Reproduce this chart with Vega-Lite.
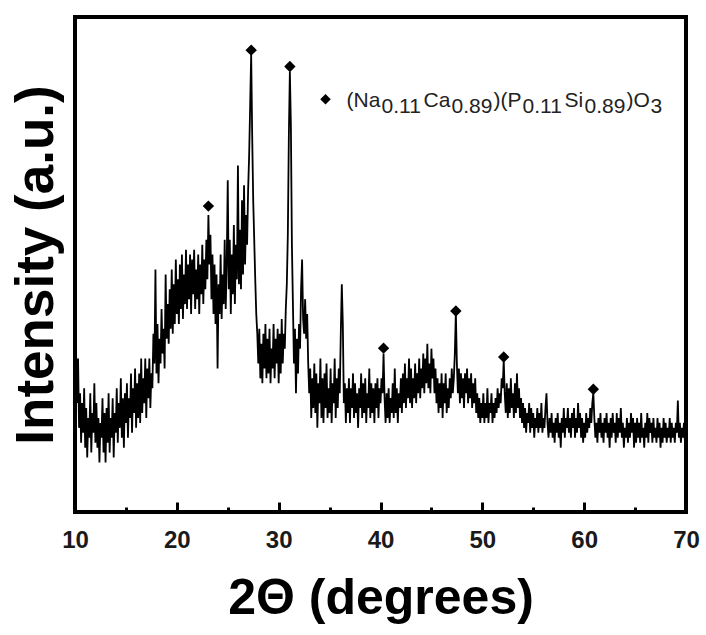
{
  "$schema": "https://vega.github.io/schema/vega-lite/v6.json",
  "width": 611,
  "height": 495,
  "autosize": {"type": "none"},
  "padding": {"left": 75, "top": 17, "right": 20, "bottom": 123},
  "background": "white",
  "config": {
    "view": {"stroke": "black", "strokeWidth": 4},
    "axis": {"grid": false},
    "font": "Liberation Sans"
  },
  "datasets": {
    "xrd": [
      {"t":10.0,"i":27},{"t":10.1,"i":33},{"t":10.2,"i":22},{"t":10.3,"i":31},{"t":10.4,"i":17},{"t":10.5,"i":24},{"t":10.6,"i":14},{"t":10.7,"i":22},{"t":10.8,"i":16},{"t":10.9,"i":25},
      {"t":11.0,"i":13},{"t":11.1,"i":21},{"t":11.2,"i":11},{"t":11.3,"i":19},{"t":11.4,"i":15},{"t":11.5,"i":24},{"t":11.6,"i":12},{"t":11.7,"i":20},{"t":11.8,"i":16},{"t":11.9,"i":26},
      {"t":12.0,"i":14},{"t":12.1,"i":22},{"t":12.2,"i":13},{"t":12.3,"i":19},{"t":12.4,"i":10},{"t":12.5,"i":18},{"t":12.6,"i":15},{"t":12.7,"i":23},{"t":12.8,"i":12},{"t":12.9,"i":20},
      {"t":13.0,"i":10},{"t":13.1,"i":21},{"t":13.2,"i":14},{"t":13.3,"i":24},{"t":13.4,"i":12},{"t":13.5,"i":19},{"t":13.6,"i":15},{"t":13.7,"i":23},{"t":13.8,"i":11},{"t":13.9,"i":20},
      {"t":14.0,"i":16},{"t":14.1,"i":25},{"t":14.2,"i":14},{"t":14.3,"i":22},{"t":14.4,"i":17},{"t":14.5,"i":27},{"t":14.6,"i":15},{"t":14.7,"i":23},{"t":14.8,"i":13},{"t":14.9,"i":24},
      {"t":15.0,"i":18},{"t":15.1,"i":26},{"t":15.2,"i":15},{"t":15.3,"i":23},{"t":15.4,"i":19},{"t":15.5,"i":28},{"t":15.6,"i":16},{"t":15.7,"i":25},{"t":15.8,"i":20},{"t":15.9,"i":29},
      {"t":16.0,"i":17},{"t":16.1,"i":26},{"t":16.2,"i":19},{"t":16.3,"i":28},{"t":16.4,"i":18},{"t":16.5,"i":31},{"t":16.6,"i":20},{"t":16.7,"i":27},{"t":16.8,"i":22},{"t":16.9,"i":31},
      {"t":17.0,"i":19},{"t":17.1,"i":29},{"t":17.2,"i":23},{"t":17.3,"i":31},{"t":17.4,"i":21},{"t":17.5,"i":28},{"t":17.6,"i":25},{"t":17.7,"i":36},{"t":17.8,"i":30},{"t":17.9,"i":49},
      {"t":18.0,"i":28},{"t":18.1,"i":38},{"t":18.2,"i":26},{"t":18.3,"i":35},{"t":18.4,"i":30},{"t":18.5,"i":41},{"t":18.6,"i":32},{"t":18.7,"i":37},{"t":18.8,"i":29},{"t":18.9,"i":48},
      {"t":19.0,"i":35},{"t":19.1,"i":42},{"t":19.2,"i":34},{"t":19.3,"i":45},{"t":19.4,"i":37},{"t":19.5,"i":49},{"t":19.6,"i":36},{"t":19.7,"i":46},{"t":19.8,"i":38},{"t":19.9,"i":51},
      {"t":20.0,"i":40},{"t":20.1,"i":47},{"t":20.2,"i":38},{"t":20.3,"i":50},{"t":20.4,"i":41},{"t":20.5,"i":52},{"t":20.6,"i":39},{"t":20.7,"i":48},{"t":20.8,"i":42},{"t":20.9,"i":53},
      {"t":21.0,"i":41},{"t":21.1,"i":50},{"t":21.2,"i":43},{"t":21.3,"i":52},{"t":21.4,"i":40},{"t":21.5,"i":51},{"t":21.6,"i":44},{"t":21.7,"i":53},{"t":21.8,"i":41},{"t":21.9,"i":49},
      {"t":22.0,"i":43},{"t":22.1,"i":52},{"t":22.2,"i":40},{"t":22.3,"i":50},{"t":22.4,"i":44},{"t":22.5,"i":54},{"t":22.6,"i":42},{"t":22.7,"i":51},{"t":22.8,"i":45},{"t":22.9,"i":55},
      {"t":23.0,"i":47},{"t":23.1,"i":60},{"t":23.2,"i":50},{"t":23.3,"i":56},{"t":23.4,"i":43},{"t":23.5,"i":52},{"t":23.6,"i":40},{"t":23.7,"i":50},{"t":23.8,"i":38},{"t":23.9,"i":48},
      {"t":24.0,"i":29},{"t":24.1,"i":46},{"t":24.2,"i":40},{"t":24.3,"i":52},{"t":24.4,"i":39},{"t":24.5,"i":48},{"t":24.6,"i":42},{"t":24.7,"i":55},{"t":24.8,"i":41},{"t":24.9,"i":50},
      {"t":25.0,"i":67},{"t":25.1,"i":45},{"t":25.2,"i":55},{"t":25.3,"i":40},{"t":25.4,"i":52},{"t":25.5,"i":44},{"t":25.6,"i":58},{"t":25.7,"i":42},{"t":25.8,"i":54},{"t":25.9,"i":47},
      {"t":26.0,"i":70},{"t":26.1,"i":46},{"t":26.2,"i":57},{"t":26.3,"i":45},{"t":26.4,"i":63},{"t":26.5,"i":48},{"t":26.6,"i":66},{"t":26.7,"i":50},{"t":26.8,"i":60},{"t":26.9,"i":54},
      {"t":27.0,"i":65},{"t":27.1,"i":72},{"t":27.2,"i":82},{"t":27.3,"i":92.5},{"t":27.4,"i":76},{"t":27.5,"i":63},{"t":27.6,"i":55},{"t":27.7,"i":47},{"t":27.8,"i":40},{"t":27.9,"i":36},
      {"t":28.0,"i":30},{"t":28.1,"i":37},{"t":28.2,"i":27},{"t":28.3,"i":34},{"t":28.4,"i":26},{"t":28.5,"i":36},{"t":28.6,"i":29},{"t":28.7,"i":38},{"t":28.8,"i":27},{"t":28.9,"i":35},
      {"t":29.0,"i":28},{"t":29.1,"i":37},{"t":29.2,"i":26},{"t":29.3,"i":33},{"t":29.4,"i":29},{"t":29.5,"i":38},{"t":29.6,"i":27},{"t":29.7,"i":35},{"t":29.8,"i":30},{"t":29.9,"i":37},
      {"t":30.0,"i":26},{"t":30.1,"i":36},{"t":30.2,"i":28},{"t":30.3,"i":39},{"t":30.4,"i":30},{"t":30.5,"i":36},{"t":30.6,"i":33},{"t":30.7,"i":41},{"t":30.8,"i":46},{"t":30.9,"i":56},
      {"t":31.0,"i":76},{"t":31.1,"i":89},{"t":31.2,"i":78},{"t":31.3,"i":54},{"t":31.4,"i":42},{"t":31.5,"i":30},{"t":31.6,"i":37},{"t":31.7,"i":24},{"t":31.8,"i":35},{"t":31.9,"i":28},
      {"t":32.0,"i":38},{"t":32.1,"i":33},{"t":32.2,"i":45},{"t":32.3,"i":51},{"t":32.4,"i":39},{"t":32.5,"i":36},{"t":32.6,"i":43},{"t":32.7,"i":35},{"t":32.8,"i":40},{"t":32.9,"i":30},
      {"t":33.0,"i":24},{"t":33.1,"i":29},{"t":33.2,"i":19},{"t":33.3,"i":27},{"t":33.4,"i":21},{"t":33.5,"i":30},{"t":33.6,"i":20},{"t":33.7,"i":28},{"t":33.8,"i":17},{"t":33.9,"i":26},
      {"t":34.0,"i":22},{"t":34.1,"i":31},{"t":34.2,"i":19},{"t":34.3,"i":27},{"t":34.4,"i":18},{"t":34.5,"i":28},{"t":34.6,"i":21},{"t":34.7,"i":30},{"t":34.8,"i":19},{"t":34.9,"i":25},
      {"t":35.0,"i":20},{"t":35.1,"i":29},{"t":35.2,"i":18},{"t":35.3,"i":26},{"t":35.4,"i":22},{"t":35.5,"i":31},{"t":35.6,"i":19},{"t":35.7,"i":27},{"t":35.8,"i":21},{"t":35.9,"i":29},
      {"t":36.0,"i":24},{"t":36.1,"i":36},{"t":36.2,"i":46},{"t":36.3,"i":38},{"t":36.4,"i":22},{"t":36.5,"i":26},{"t":36.6,"i":18},{"t":36.7,"i":25},{"t":36.8,"i":20},{"t":36.9,"i":27},
      {"t":37.0,"i":18},{"t":37.1,"i":25},{"t":37.2,"i":21},{"t":37.3,"i":28},{"t":37.4,"i":19},{"t":37.5,"i":26},{"t":37.6,"i":20},{"t":37.7,"i":24},{"t":37.8,"i":17},{"t":37.9,"i":25},
      {"t":38.0,"i":21},{"t":38.1,"i":28},{"t":38.2,"i":19},{"t":38.3,"i":26},{"t":38.4,"i":20},{"t":38.5,"i":27},{"t":38.6,"i":18},{"t":38.7,"i":24},{"t":38.8,"i":21},{"t":38.9,"i":29},
      {"t":39.0,"i":19},{"t":39.1,"i":26},{"t":39.2,"i":20},{"t":39.3,"i":25},{"t":39.4,"i":18},{"t":39.5,"i":26},{"t":39.6,"i":21},{"t":39.7,"i":27},{"t":39.8,"i":19},{"t":39.9,"i":25},
      {"t":40.0,"i":22},{"t":40.1,"i":27},{"t":40.2,"i":24},{"t":40.3,"i":32},{"t":40.4,"i":23},{"t":40.5,"i":18},{"t":40.6,"i":24},{"t":40.7,"i":19},{"t":40.8,"i":25},{"t":40.9,"i":18},
      {"t":41.0,"i":23},{"t":41.1,"i":20},{"t":41.2,"i":26},{"t":41.3,"i":19},{"t":41.4,"i":29},{"t":41.5,"i":20},{"t":41.6,"i":25},{"t":41.7,"i":18},{"t":41.8,"i":24},{"t":41.9,"i":21},
      {"t":42.0,"i":27},{"t":42.1,"i":20},{"t":42.2,"i":28},{"t":42.3,"i":22},{"t":42.4,"i":30},{"t":42.5,"i":21},{"t":42.6,"i":27},{"t":42.7,"i":23},{"t":42.8,"i":31},{"t":42.9,"i":22},
      {"t":43.0,"i":29},{"t":43.1,"i":21},{"t":43.2,"i":27},{"t":43.3,"i":23},{"t":43.4,"i":30},{"t":43.5,"i":22},{"t":43.6,"i":28},{"t":43.7,"i":24},{"t":43.8,"i":31},{"t":43.9,"i":23},
      {"t":44.0,"i":29},{"t":44.1,"i":25},{"t":44.2,"i":32},{"t":44.3,"i":24},{"t":44.4,"i":31},{"t":44.5,"i":26},{"t":44.6,"i":34},{"t":44.7,"i":25},{"t":44.8,"i":30},{"t":44.9,"i":24},
      {"t":45.0,"i":33},{"t":45.1,"i":27},{"t":45.2,"i":31},{"t":45.3,"i":24},{"t":45.4,"i":29},{"t":45.5,"i":22},{"t":45.6,"i":27},{"t":45.7,"i":20},{"t":45.8,"i":26},{"t":45.9,"i":21},
      {"t":46.0,"i":28},{"t":46.1,"i":19},{"t":46.2,"i":26},{"t":46.3,"i":22},{"t":46.4,"i":28},{"t":46.5,"i":20},{"t":46.6,"i":25},{"t":46.7,"i":21},{"t":46.8,"i":27},{"t":46.9,"i":23},
      {"t":47.0,"i":29},{"t":47.1,"i":24},{"t":47.2,"i":27},{"t":47.3,"i":32},{"t":47.4,"i":40.4},{"t":47.5,"i":30},{"t":47.6,"i":24},{"t":47.7,"i":29},{"t":47.8,"i":22},{"t":47.9,"i":28},
      {"t":48.0,"i":23},{"t":48.1,"i":27},{"t":48.2,"i":21},{"t":48.3,"i":28},{"t":48.4,"i":24},{"t":48.5,"i":29},{"t":48.6,"i":22},{"t":48.7,"i":27},{"t":48.8,"i":23},{"t":48.9,"i":28},
      {"t":49.0,"i":21},{"t":49.1,"i":26},{"t":49.2,"i":22},{"t":49.3,"i":27},{"t":49.4,"i":20},{"t":49.5,"i":24},{"t":49.6,"i":19},{"t":49.7,"i":23},{"t":49.8,"i":18},{"t":49.9,"i":22},
      {"t":50.0,"i":19},{"t":50.1,"i":24},{"t":50.2,"i":18},{"t":50.3,"i":22},{"t":50.4,"i":19},{"t":50.5,"i":25},{"t":50.6,"i":18},{"t":50.7,"i":22},{"t":50.8,"i":20},{"t":50.9,"i":24},
      {"t":51.0,"i":18},{"t":51.1,"i":22},{"t":51.2,"i":19},{"t":51.3,"i":23},{"t":51.4,"i":20},{"t":51.5,"i":25},{"t":51.6,"i":21},{"t":51.7,"i":24},{"t":51.8,"i":22},{"t":51.9,"i":27},
      {"t":52.0,"i":25},{"t":52.1,"i":30.7},{"t":52.2,"i":24},{"t":52.3,"i":20},{"t":52.4,"i":26},{"t":52.5,"i":19},{"t":52.6,"i":25},{"t":52.7,"i":20},{"t":52.8,"i":27},{"t":52.9,"i":21},
      {"t":53.0,"i":24},{"t":53.1,"i":19},{"t":53.2,"i":26},{"t":53.3,"i":20},{"t":53.4,"i":28},{"t":53.5,"i":21},{"t":53.6,"i":25},{"t":53.7,"i":19},{"t":53.8,"i":23},{"t":53.9,"i":18},
      {"t":54.0,"i":22},{"t":54.1,"i":17},{"t":54.2,"i":21},{"t":54.3,"i":16},{"t":54.4,"i":20},{"t":54.5,"i":18},{"t":54.6,"i":22},{"t":54.7,"i":16},{"t":54.8,"i":21},{"t":54.9,"i":17},
      {"t":55.0,"i":20},{"t":55.1,"i":15},{"t":55.2,"i":19},{"t":55.3,"i":17},{"t":55.4,"i":21},{"t":55.5,"i":16},{"t":55.6,"i":20},{"t":55.7,"i":17},{"t":55.8,"i":22},{"t":55.9,"i":16},
      {"t":56.0,"i":19},{"t":56.1,"i":17},{"t":56.2,"i":21},{"t":56.3,"i":24},{"t":56.4,"i":18},{"t":56.5,"i":15},{"t":56.6,"i":19},{"t":56.7,"i":16},{"t":56.8,"i":20},{"t":56.9,"i":15},
      {"t":57.0,"i":18},{"t":57.1,"i":14},{"t":57.2,"i":19},{"t":57.3,"i":16},{"t":57.4,"i":20},{"t":57.5,"i":15},{"t":57.6,"i":18},{"t":57.7,"i":13},{"t":57.8,"i":19},{"t":57.9,"i":16},
      {"t":58.0,"i":21},{"t":58.1,"i":15},{"t":58.2,"i":19},{"t":58.3,"i":17},{"t":58.4,"i":21},{"t":58.5,"i":16},{"t":58.6,"i":19},{"t":58.7,"i":15},{"t":58.8,"i":20},{"t":58.9,"i":17},
      {"t":59.0,"i":21},{"t":59.1,"i":15},{"t":59.2,"i":19},{"t":59.3,"i":16},{"t":59.4,"i":22},{"t":59.5,"i":17},{"t":59.6,"i":20},{"t":59.7,"i":15},{"t":59.8,"i":19},{"t":59.9,"i":14},
      {"t":60.0,"i":18},{"t":60.1,"i":15},{"t":60.2,"i":20},{"t":60.3,"i":16},{"t":60.4,"i":19},{"t":60.5,"i":17},{"t":60.6,"i":21},{"t":60.7,"i":18},{"t":60.8,"i":22},{"t":60.9,"i":24},
      {"t":61.0,"i":19},{"t":61.1,"i":15},{"t":61.2,"i":18},{"t":61.3,"i":14},{"t":61.4,"i":19},{"t":61.5,"i":16},{"t":61.6,"i":20},{"t":61.7,"i":15},{"t":61.8,"i":18},{"t":61.9,"i":14},
      {"t":62.0,"i":19},{"t":62.1,"i":16},{"t":62.2,"i":20},{"t":62.3,"i":15},{"t":62.4,"i":18},{"t":62.5,"i":13},{"t":62.6,"i":19},{"t":62.7,"i":15},{"t":62.8,"i":20},{"t":62.9,"i":16},
      {"t":63.0,"i":18},{"t":63.1,"i":14},{"t":63.2,"i":20},{"t":63.3,"i":15},{"t":63.4,"i":19},{"t":63.5,"i":16},{"t":63.6,"i":21},{"t":63.7,"i":15},{"t":63.8,"i":18},{"t":63.9,"i":13},
      {"t":64.0,"i":17},{"t":64.1,"i":15},{"t":64.2,"i":19},{"t":64.3,"i":14},{"t":64.4,"i":18},{"t":64.5,"i":15},{"t":64.6,"i":20},{"t":64.7,"i":16},{"t":64.8,"i":19},{"t":64.9,"i":13},
      {"t":65.0,"i":18},{"t":65.1,"i":14},{"t":65.2,"i":19},{"t":65.3,"i":15},{"t":65.4,"i":18},{"t":65.5,"i":14},{"t":65.6,"i":20},{"t":65.7,"i":15},{"t":65.8,"i":17},{"t":65.9,"i":13},
      {"t":66.0,"i":18},{"t":66.1,"i":15},{"t":66.2,"i":20},{"t":66.3,"i":14},{"t":66.4,"i":19},{"t":66.5,"i":16},{"t":66.6,"i":18},{"t":66.7,"i":14},{"t":66.8,"i":19},{"t":66.9,"i":15},
      {"t":67.0,"i":17},{"t":67.1,"i":14},{"t":67.2,"i":19},{"t":67.3,"i":15},{"t":67.4,"i":18},{"t":67.5,"i":13},{"t":67.6,"i":17},{"t":67.7,"i":14},{"t":67.8,"i":19},{"t":67.9,"i":15},
      {"t":68.0,"i":18},{"t":68.1,"i":14},{"t":68.2,"i":17},{"t":68.3,"i":15},{"t":68.4,"i":19},{"t":68.5,"i":14},{"t":68.6,"i":18},{"t":68.7,"i":15},{"t":68.8,"i":17},{"t":68.9,"i":14},
      {"t":69.0,"i":18},{"t":69.1,"i":16},{"t":69.2,"i":22.5},{"t":69.3,"i":15},{"t":69.4,"i":18},{"t":69.5,"i":14},{"t":69.6,"i":17},{"t":69.7,"i":15},{"t":69.8,"i":18},{"t":69.9,"i":14},
      {"t":70.0,"i":12}
    ],
    "peaks": [
      {"t":23.1,"i":61.8},{"t":27.3,"i":93.3},{"t":31.1,"i":90},{"t":40.3,"i":33.1},
      {"t":47.4,"i":40.6},{"t":52.1,"i":31.3},{"t":60.9,"i":24.8}
    ],
    "legend": [
      {"t":34.6,"i":83.4}
    ]
  },
  "encoding": {
    "x": {
      "field": "t", "type": "quantitative",
      "scale": {"domain": [10, 70], "nice": false, "zero": false},
      "axis": {
        "values": [10, 15, 20, 25, 30, 35, 40, 45, 50, 55, 60, 65, 70],
        "labelExpr": "datum.value % 10 === 0 ? datum.label : ''",
        "tickSize": {"condition": {"test": "datum.value % 10 === 0", "value": -10}, "value": -5},
        "tickWidth": 3, "tickColor": "black",
        "domain": false, "grid": false, "labelFlush": false,
        "labelFontSize": 24, "labelFontWeight": "bold", "labelColor": "#1a1a1a",
        "labelPadding": 26, "labelFont": "Liberation Sans",
        "title": "2Θ (degrees)", "titleFontSize": 50, "titleFontWeight": "bold",
        "titleFont": "Liberation Sans", "titleColor": "black", "titlePadding": 21
      }
    },
    "y": {
      "field": "i", "type": "quantitative",
      "scale": {"domain": [0, 100], "nice": false},
      "axis": {
        "labels": false, "ticks": false, "domain": false, "grid": false,
        "title": "Intensity (a.u.)", "titleFontSize": 53, "titleFontWeight": "bold",
        "titleFont": "Liberation Sans", "titleColor": "black", "titlePadding": 12
      }
    }
  },
  "layer": [
    {
      "data": {"name": "xrd"},
      "mark": {"type": "line", "color": "black", "strokeWidth": 1.8}
    },
    {
      "data": {"name": "peaks"},
      "mark": {"type": "point", "shape": "diamond", "filled": true, "color": "black", "size": 130, "opacity": 1}
    },
    {
      "data": {"name": "legend"},
      "mark": {"type": "point", "shape": "diamond", "filled": true, "color": "black", "size": 110, "opacity": 1}
    },
    {"data": {"name": "legend"}, "mark": {"type": "text", "align": "left", "baseline": "alphabetic", "dx": 21, "dy": 8, "fontSize": 21, "font": "Liberation Sans", "color": "#222222", "text": "(Na"}},
    {"data": {"name": "legend"}, "mark": {"type": "text", "align": "left", "baseline": "alphabetic", "dx": 56, "dy": 14, "fontSize": 21, "font": "Liberation Sans", "color": "#222222", "text": "0.11"}},
    {"data": {"name": "legend"}, "mark": {"type": "text", "align": "left", "baseline": "alphabetic", "dx": 98, "dy": 8, "fontSize": 21, "font": "Liberation Sans", "color": "#222222", "text": "Ca"}},
    {"data": {"name": "legend"}, "mark": {"type": "text", "align": "left", "baseline": "alphabetic", "dx": 126, "dy": 14, "fontSize": 21, "font": "Liberation Sans", "color": "#222222", "text": "0.89"}},
    {"data": {"name": "legend"}, "mark": {"type": "text", "align": "left", "baseline": "alphabetic", "dx": 168, "dy": 8, "fontSize": 21, "font": "Liberation Sans", "color": "#222222", "text": ")(P"}},
    {"data": {"name": "legend"}, "mark": {"type": "text", "align": "left", "baseline": "alphabetic", "dx": 197, "dy": 14, "fontSize": 21, "font": "Liberation Sans", "color": "#222222", "text": "0.11"}},
    {"data": {"name": "legend"}, "mark": {"type": "text", "align": "left", "baseline": "alphabetic", "dx": 239, "dy": 8, "fontSize": 21, "font": "Liberation Sans", "color": "#222222", "text": "Si"}},
    {"data": {"name": "legend"}, "mark": {"type": "text", "align": "left", "baseline": "alphabetic", "dx": 259, "dy": 14, "fontSize": 21, "font": "Liberation Sans", "color": "#222222", "text": "0.89"}},
    {"data": {"name": "legend"}, "mark": {"type": "text", "align": "left", "baseline": "alphabetic", "dx": 301, "dy": 8, "fontSize": 21, "font": "Liberation Sans", "color": "#222222", "text": ")O"}},
    {"data": {"name": "legend"}, "mark": {"type": "text", "align": "left", "baseline": "alphabetic", "dx": 325, "dy": 14, "fontSize": 21, "font": "Liberation Sans", "color": "#222222", "text": "3"}}
  ]
}
